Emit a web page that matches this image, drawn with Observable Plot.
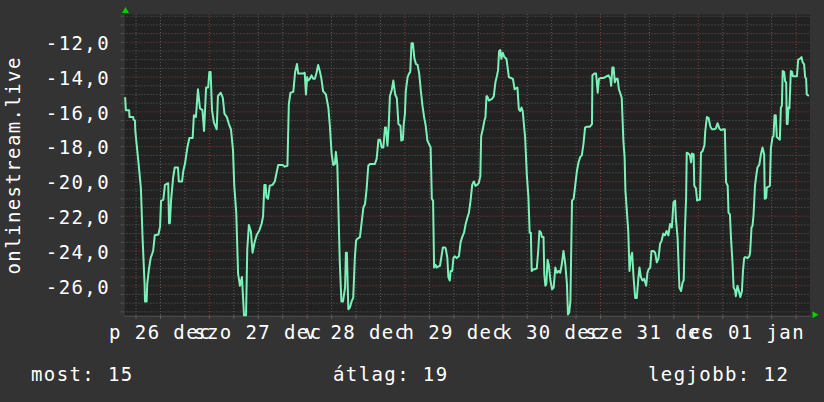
<!DOCTYPE html>
<html>
<head>
<meta charset="utf-8">
<script src="https://cdn.jsdelivr.net/npm/d3@7"></script>
<script src="https://cdn.jsdelivr.net/npm/@observablehq/plot@0.6"></script>
<style>
  html, body { margin: 0; padding: 0; background: #333333; }
  #wrap { position: relative; width: 824px; height: 402px; overflow: hidden; font-family: "DejaVu Sans Mono", monospace; }
  #wrap svg text { letter-spacing: 1.4px; }
  #legend { position: relative; width: 824px; height: 52px; color: #ffffff; font-size: 19px; letter-spacing: 1.4px; }
  #legend span { position: absolute; top: 15px; line-height: 19px; white-space: pre; }
</style>
</head>
<body>
<div id="wrap"><div id="chart"></div><div id="legend"></div></div>
<script>
// hours since 26 Dec 00:00 (local)
const hours = [
  3.34,3.5,4.3,4.4,5.3,5.4,5.75,5.8,6.1,6.6,7.2,7.6,8.1,8.2,8.6,8.75,9.2,9.6,10.2,10.6,11.5,11.9,12.15,12.7,13.1,13.9,14.1,14.3,14.6,15.1,15.5,16.3,16.5,17.3,17.6,18.0,18.6,19.1,19.9,20.2,20.7,21.2,21.7,22.3,22.7,23.2,23.7,24.0,24.3,24.65,25.1,25.8,26.1,26.8,27.3,27.7,28.3,28.8,29.3,29.8,30.1,30.6,31.05,31.5,32.0,32.5,33.0,33.3,33.7,34.2,34.6,35.1,35.6,36.3,
  36.8,37.18,37.5,37.8,38.0,38.4,38.8,39.5,40.05,40.5,40.9,42.0,42.5,43.16,43.5,43.9,44.6,45.05,45.5,45.8,47.0,47.4,47.7,48.0,48.25,48.65,49.07,49.5,49.9,50.3,50.7,51.1,51.5,51.9,52.6,53.2,53.6,54.0,54.4,54.8,55.05,55.4,55.6,56.0,56.4,56.8,57.3,57.5,57.75,58.1,58.5,58.9,59.3,59.7,60.0,60.3,60.95,61.4,61.8,62.2,62.6,63.0,63.4,64.6,65.05,65.5,65.9,66.3,66.7,67.1,67.35,67.7,68.0,68.3,68.8,69.15,69.6,70.0,70.4,70.9,
  71.1,71.5,71.7,72.0,72.2,72.65,73.0,73.3,73.6,73.95,74.3,74.7,75.1,75.5,75.9,76.3,76.7,77.1,77.5,77.9,78.3,78.6,78.9,79.15,79.5,79.8,80.1,80.6,80.9,81.3,81.8,82.0,82.4,82.65,83.0,83.2,83.6,83.9,84.2,84.7,85.25,85.65,86.05,86.5,86.9,87.3,87.7,88.1,88.5,88.9,89.3,89.7,90.1,90.5,90.7,91.1,91.5,91.75,92.0,92.2,92.6,93.0,93.4,93.8,94.2,94.6,94.85,95.1,95.4,95.65,96.0,96.4,96.9,97.2,97.5,98.0,98.5,98.9,99.2,99.6,99.95,100.3,100.6,100.9,101.3,101.5,101.9,102.3,102.6,102.9,103.1,103.5,103.9,104.35,104.7,105.0,105.4,105.6,
  106.0,106.2,106.45,106.7,107.0,107.3,107.7,108.1,108.5,108.9,109.3,109.7,110.1,110.5,110.9,111.35,111.75,112.0,112.3,112.6,113.0,113.4,113.8,114.2,114.6,115.0,115.4,115.8,116.2,116.6,117.4,117.9,118.0,118.5,118.9,119.3,119.6,120.1,120.8,121.55,121.95,122.4,122.6,122.9,123.2,123.5,123.8,124.2,124.5,124.8,125.2,125.6,125.9,126.1,126.45,126.8,127.1,127.4,127.75,128.1,128.5,128.9,129.3,129.55,129.9,130.3,130.7,131.2,131.5,131.8,132.2,132.5,133.0,133.4,133.8,134.2,134.6,135.0,135.4,135.8,136.2,136.65,137.05,137.5,137.9,138.3,138.5,138.9,139.35,139.75,
  140.15,140.4,140.7,141.0,141.15,141.6,141.95,142.2,142.45,142.85,143.0,143.4,143.7,144.0,144.4,144.65,145.05,145.5,145.7,146.1,146.5,146.95,147.35,147.9,148.3,148.7,149.15,149.55,150.2,150.5,150.8,151.2,151.4,151.75,152.0,152.4,152.65,153.0,153.2,153.6,153.95,154.3,154.7,154.95,155.25,155.5,156.1,156.5,156.7,157.05,157.3,157.55,157.9,158.2,158.5,158.95,159.35,159.75,160.15,160.3,160.65,160.8,161.55,161.8,162.2,162.45,162.7,163.0,163.25,164.0,164.25,164.5,164.7,165.05,165.3,165.55,165.7,165.9,166.1,166.35,166.7,167.0,167.2,168.2,168.5,168.9,169.3,169.6,169.95,170.2,170.45,170.6,170.95
];
const values = [
  -15.2,-15.9,-15.9,-16.3,-16.3,-16.45,-16.5,-17.0,-17.75,-18.9,-20.4,-23.2,-25.9,-26.9,-26.9,-25.9,-25.0,-24.4,-24.0,-23.1,-23.05,-22.6,-21.1,-21.05,-20.2,-20.1,-22.4,-22.4,-21.1,-19.8,-19.2,-19.2,-20.0,-20.0,-19.4,-19.0,-18.05,-17.5,-17.5,-16.2,-16.3,-14.7,-15.8,-15.9,-17.1,-14.6,-14.6,-13.7,-13.7,-15.9,-16.6,-17.0,-15.1,-14.9,-15.2,-16.1,-16.3,-16.7,-17.0,-18.2,-20.2,-21.8,-25.3,-26.0,-25.5,-27.7,-27.7,-23.9,-22.5,-22.9,-24.1,-23.5,-23.1,-22.8,
  -22.45,-22.0,-20.2,-20.2,-20.9,-21.0,-20.25,-20.2,-20.0,-19.5,-19.05,-19.05,-19.15,-19.1,-15.55,-14.9,-14.85,-13.7,-13.25,-13.8,-13.8,-13.75,-15.0,-14.0,-14.2,-14.1,-13.9,-14.1,-14.1,-13.75,-13.3,-13.65,-14.1,-14.8,-15.0,-15.75,-16.9,-18.4,-19.05,-19.0,-18.3,-19.05,-20.9,-24.6,-26.9,-26.9,-26.1,-24.1,-24.1,-27.35,-27.25,-26.9,-26.7,-24.4,-23.4,-23.3,-23.2,-22.3,-21.5,-21.3,-20.4,-19.1,-19.0,-19.0,-18.7,-17.6,-17.6,-18.05,-18.05,-16.9,-16.9,-17.95,-16.9,-15.1,-14.7,-14.2,-15.0,-15.2,-16.7,-16.8,
  -17.65,-17.6,-16.7,-16.1,-14.8,-14.0,-13.8,-13.7,-12.05,-12.05,-12.9,-13.25,-13.3,-13.8,-14.8,-15.65,-16.3,-16.8,-17.65,-17.85,-18.05,-21.0,-21.1,-24.95,-24.8,-24.95,-24.9,-24.85,-24.4,-23.8,-23.8,-23.85,-24.4,-25.5,-25.7,-25.15,-25.15,-24.4,-24.3,-24.4,-24.3,-23.5,-23.2,-22.95,-22.45,-22.1,-21.8,-21.1,-20.2,-20.0,-20.25,-20.2,-20.1,-19.7,-17.4,-17.0,-16.5,-16.3,-15.1,-15.1,-15.35,-15.3,-15.25,-15.1,-14.3,-13.9,-13.6,-12.5,-12.45,-12.95,-12.6,-12.85,-12.95,-13.45,-14.0,-14.05,-14.1,-14.7,-14.65,-14.6,-15.85,-15.95,-15.75,-15.95,-17.0,-17.5,-19.6,-20.9,-22.95,-22.95,-25.15,-25.05,-25.05,-25.0,-24.0,-22.85,-22.95,-23.2,
  -23.2,-25.35,-26.0,-25.9,-24.5,-24.8,-25.7,-26.2,-26.1,-24.95,-25.25,-25.15,-25.25,-24.75,-24.0,-24.75,-25.9,-27.65,-27.55,-26.9,-21.1,-21.0,-20.2,-19.4,-18.9,-18.6,-18.5,-17.85,-16.9,-16.85,-16.85,-16.7,-13.9,-13.8,-13.8,-14.9,-14.1,-14.05,-14.05,-13.95,-13.9,-14.1,-14.5,-13.45,-13.45,-14.3,-14.1,-14.1,-14.7,-14.9,-15.2,-17.65,-18.6,-20.5,-21.7,-22.85,-25.15,-24.4,-24.1,-25.5,-26.7,-26.7,-25.5,-24.95,-25.5,-25.7,-25.6,-26.0,-25.25,-25.05,-24.95,-24.0,-24.0,-24.1,-24.65,-24.45,-23.6,-23.4,-23.0,-23.1,-22.85,-23.1,-22.45,-22.65,-21.2,-21.1,-22.2,-23.2,-26.1,-26.3,
  -25.8,-25.7,-22.85,-20.9,-18.35,-18.4,-18.5,-18.9,-18.4,-18.45,-20.25,-20.4,-21.1,-21.05,-21.05,-18.35,-18.25,-17.9,-17.1,-16.3,-16.35,-16.85,-17.0,-17.0,-16.95,-16.65,-16.95,-17.05,-17.0,-17.0,-20.05,-20.25,-21.8,-21.9,-23.2,-24.75,-26.1,-26.25,-26.6,-26.0,-26.3,-26.65,-26.3,-25.15,-24.4,-24.35,-24.4,-24.3,-24.1,-22.65,-22.55,-21.9,-20.25,-19.7,-19.2,-19.05,-18.45,-18.05,-18.45,-21.0,-20.95,-20.35,-20.25,-18.1,-17.45,-17.4,-16.2,-16.2,-17.45,-17.6,-15.75,-15.65,-13.65,-13.7,-14.25,-14.3,-16.7,-16.7,-15.75,-15.8,-13.65,-13.7,-13.95,-13.95,-13.0,-12.95,-12.85,-13.15,-13.25,-14.0,-14.1,-15.0,-15.05
];
const seriesName = "onlinestream.live";
const dayLabels = ["p 26 dec", "szo 27 dec", "v 28 dec", "h 29 dec", "k 30 dec", "sze 31 dec", "cs 01 jan"];
const dayLabelHours = [12, 36, 60, 84, 108, 132, 156];
const yTicks = [-26, -24, -22, -20, -18, -16, -14, -12];
const legendLabels = ["most: 15", "átlag: 19", "legjobb: 12"];

const xDomain = [3.05, 171.4];
const yDomain = [-27.75, -10.4];

const data = hours.map((h, i) => ({h, v: values[i]}));
const allY = d3.range(-55, -20).map(k => k / 2);
const minorY = allY.filter(v => v % 2 !== 0);
const majorY = yTicks;
const allX = d3.range(6, 172, 6);
const minorX = allX.filter(h => h % 24 !== 0);
const majorX = allX.filter(h => h % 24 === 0);

const W = 824, H = 350, mL = 123.5, mR = 14.5, mT = 14, mB = 34.3;
const plotW = W - mL - mR, plotH = H - mT - mB;
const fontSize = 19;
const chart = Plot.plot({
  width: W,
  height: H,
  marginLeft: mL,
  marginRight: mR,
  marginTop: mT,
  marginBottom: mB,
  style: {background: "#333333", color: "#ffffff", fontFamily: "DejaVu Sans Mono, monospace", fontSize: fontSize + "px"},
  x: {type: "linear", domain: xDomain, axis: null},
  y: {type: "linear", domain: yDomain, axis: null},
  marks: [
    Plot.frame({fill: "#222222", stroke: null}),
    Plot.ruleY(minorY, {stroke: "#5c5c5c", strokeDasharray: "1,2", strokeWidth: 1}),
    Plot.ruleX(minorX, {stroke: "#5c5c5c", strokeDasharray: "1,2", strokeWidth: 1}),
    Plot.ruleY(majorY, {stroke: "#8a3c3c", strokeDasharray: "1,2", strokeWidth: 1}),
    Plot.ruleX(majorX, {stroke: "#8a3c3c", strokeDasharray: "1,2", strokeWidth: 1}),
    Plot.frame({anchor: "bottom", stroke: "#555555"}),
    Plot.frame({anchor: "left", stroke: "#3c3c3c"}),
    Plot.ruleX(allX, {stroke: "#666666", insetTop: plotH, insetBottom: -3}),
    Plot.ruleY(allY, {stroke: "#555555", insetRight: plotW, insetLeft: -3}),
    Plot.line(data, {x: "h", y: "v", stroke: "#7bf0b8", strokeWidth: 2, curve: "linear"}),
    Plot.axisY(yTicks, {tickSize: 0, tickPadding: 14, tickFormat: d => d.toFixed(1).replace(".", ","), fill: "#ffffff", fontSize, dy: 1.7, label: null}),
    Plot.axisX(dayLabelHours, {tickSize: 0, tickPadding: 9.5, tickFormat: (d, i) => dayLabels[i], fill: "#ffffff", fontSize, label: null}),
    Plot.text([seriesName], {frameAnchor: "left", rotate: -90, dx: -110, fill: "#ffffff", fontSize, textAnchor: "middle"}),
    Plot.dot([0], {frameAnchor: "top-left", symbol: "triangle", r: 2.6, fill: "#00d000", stroke: null, dx: 1.5, dy: -3.5}),
    Plot.dot([0], {frameAnchor: "bottom-right", symbol: "triangle", r: 2.6, rotate: 90, fill: "#00d000", stroke: null, dx: 4.5, dy: -1.5})
  ]
});
document.getElementById("chart").appendChild(chart);

const legendLeft = [31, 333, 648];
const legend = document.getElementById("legend");
legendLabels.forEach((t, i) => {
  const s = document.createElement("span");
  s.textContent = t;
  s.style.left = legendLeft[i] + "px";
  legend.appendChild(s);
});
</script>
</body>
</html>
